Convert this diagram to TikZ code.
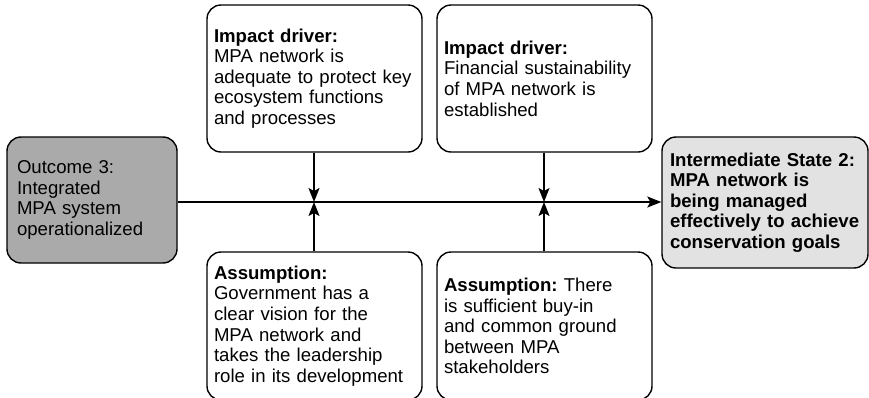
\documentclass[tikz,border=0pt]{standalone}
\usepackage{fontspec}
\setmainfont{Liberation Sans}
\usetikzlibrary{arrows.meta}
\frenchspacing
\begin{document}
\begin{tikzpicture}[x=1pt,y=-1pt,
  box/.style={draw=black, line width=1.4pt, rounded corners=14pt, align=left, inner sep=0pt, font=\fontsize{18.6}{20.6}\selectfont},
  arr/.style={line width=1.4pt, -{Stealth[length=14pt,width=11pt,inset=3pt]}}]
\useasboundingbox (0,0) rectangle (869,397);
\begin{scope}
\clip (0,0) rectangle (869,397);
\node[box, fill={rgb,255:red,170;green,170;blue,170}, minimum width=170pt, minimum height=126pt, text width=150pt] (out) at (92,200) {Outcome 3:\\Integrated\\MPA system\\operationalized};
\node[box, fill={rgb,255:red,226;green,226;blue,226}, minimum width=206pt, minimum height=131pt, text width=190pt, font=\fontsize{18.6}{20.6}\selectfont\bfseries] (ist) at (765,202.5) {Intermediate State 2:\\MPA network is\\being managed\\effectively to achieve\\conservation goals};
\node[box, fill=white, minimum width=215pt, minimum height=147pt, text width=201pt] (d1) at (314.5,78.5) {\textbf{Impact driver:}\\MPA network is\\adequate to protect key\\ecosystem functions\\and processes};
\node[box, fill=white, minimum width=215pt, minimum height=147pt, text width=201pt] (d2) at (544.5,78.5) {\textbf{Impact driver:}\\Financial sustainability\\of MPA network is\\established};
\node[box, fill=white, minimum width=215pt, minimum height=148pt, text width=201pt] (a1) at (314.5,326) {\textbf{Assumption:}\\Government has a\\clear vision for the\\MPA network and\\takes the leadership\\role in its development};
\node[box, fill=white, minimum width=215pt, minimum height=148pt, text width=201pt] (a2) at (544.5,326) {\textbf{Assumption:} There\\is sufficient buy-in\\and common ground\\between MPA\\stakeholders};
\end{scope}
\coordinate (j1) at (314,202);
\coordinate (j2) at (544,202);
\draw[arr] (out.east |- j1) -- (ist.west |- j1);
\draw[arr] (d1.south -| j1) -- (j1);
\draw[arr] (a1.north -| j1) -- (j1);
\draw[arr] (d2.south -| j2) -- (j2);
\draw[arr] (a2.north -| j2) -- (j2);
\end{tikzpicture}
\end{document}
